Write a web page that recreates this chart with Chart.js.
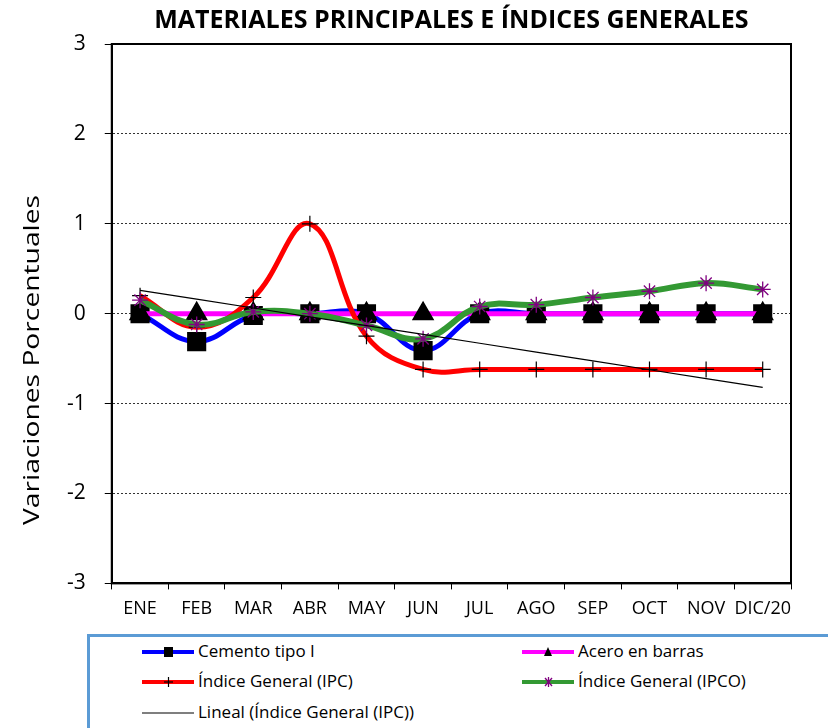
<!DOCTYPE html>
<html>
<head>
<meta charset="utf-8">
<script src="https://cdn.jsdelivr.net/npm/chart.js@4.4.1/dist/chart.umd.min.js"></script>
<style>
  html, body { margin: 0; padding: 0; background: #fff; overflow: hidden; }
  #wrap { position: relative; width: 828px; height: 728px; }
  #chartBox { position: absolute; left: 0; top: 0; width: 828px; height: 632px; }
  #legend {
    position: absolute; left: 87px; top: 634px; width: 780px; height: 110px;
    border: 3px solid #5b9bd5; background: #fff;
    font-family: "Open Sans", sans-serif; font-size: 17px; color: #000;
  }
  .item { position: absolute; height: 20px; line-height: 20px; white-space: nowrap; }
  .item svg { position: absolute; left: 0; top: 0; }
  .item span { position: absolute; left: 58px; top: -1px; }
</style>
</head>
<body>
<div id="wrap">
  <div id="chartBox"><canvas id="myChart"></canvas></div>
  <div id="legend">
    <div class="item" style="left:50px;top:5px;">
      <svg width="56" height="20"><line x1="2" y1="10" x2="54" y2="10" stroke="#0000ff" stroke-width="4"/><rect x="24" y="5" width="9" height="10" fill="#000"/></svg>
      <span>Cemento tipo I</span></div>
    <div class="item" style="left:430px;top:5px;">
      <svg width="56" height="20"><line x1="2" y1="10" x2="54" y2="10" stroke="#ff00ff" stroke-width="4"/><polygon points="28,5 24,14 32,14" fill="#000"/></svg>
      <span>Acero en barras</span></div>
    <div class="item" style="left:50px;top:35px;">
      <svg width="56" height="20"><line x1="2" y1="10" x2="54" y2="10" stroke="#ff0000" stroke-width="4"/><line x1="24" y1="10" x2="33" y2="10" stroke="#000" stroke-width="1.2"/><line x1="28.5" y1="5" x2="28.5" y2="15" stroke="#000" stroke-width="1.2"/></svg>
      <span>Índice General (IPC)</span></div>
    <div class="item" style="left:430px;top:35px;">
      <svg width="56" height="20"><line x1="2" y1="10" x2="54" y2="10" stroke="#339933" stroke-width="4"/><line x1="25" y1="6" x2="32" y2="14" stroke="#800080" stroke-width="1.3"/><line x1="32" y1="6" x2="25" y2="14" stroke="#800080" stroke-width="1.3"/><line x1="28.5" y1="5" x2="28.5" y2="15" stroke="#800080" stroke-width="1.3"/></svg>
      <span>Índice General (IPCO)</span></div>
    <div class="item" style="left:50px;top:66px;">
      <svg width="56" height="20"><line x1="2" y1="10" x2="54" y2="10" stroke="#000" stroke-width="1.2"/></svg>
      <span>Lineal (Índice General (IPC))</span></div>
  </div>
</div>
<script>
var meses = ["ENE", "FEB", "MAR", "ABR", "MAY", "JUN", "JUL", "AGO", "SEP", "OCT", "NOV", "DIC/20"];
var cemento = [0, -0.31, -0.02, 0, 0, -0.41, 0, 0, 0, 0, 0, 0];
var acero = [0, 0, 0, 0, 0, 0, 0, 0, 0, 0, 0, 0];
var ipc = [0.2, -0.15, 0.18, 1.0, -0.25, -0.62, -0.62, -0.62, -0.62, -0.62, -0.62, -0.62];
var ipco = [0.15, -0.12, 0.02, 0, -0.13, -0.28, 0.08, 0.1, 0.18, 0.25, 0.34, 0.27];

// linea de tendencia (minimos cuadrados sobre el IPC)
function tendencia(vals) {
  var n = vals.length, sx = 0, sy = 0, sxy = 0, sxx = 0;
  for (var i = 0; i < n; i++) {
    var x = i + 1;
    sx += x; sy += vals[i]; sxy += x * vals[i]; sxx += x * x;
  }
  var m = (n * sxy - sx * sy) / (n * sxx - sx * sx);
  var b = (sy - m * sx) / n;
  return vals.map(function (v, i) { return m * (i + 1) + b; });
}
var lineal = tendencia(ipc);

// marco negro alrededor del area de trazado
var marco = {
  id: "marco",
  afterDatasetsDraw: function (chart) {
    var a = chart.chartArea, ctx = chart.ctx;
    ctx.save();
    ctx.strokeStyle = "#000";
    ctx.lineWidth = 2;
    ctx.strokeRect(a.left, a.top, a.right - a.left, a.bottom - a.top);
    ctx.restore();
  }
};

// titulo del eje Y (va algo mas abajo que el centro, como en el original)
var tituloY = {
  id: "tituloY",
  afterDraw: function (chart) {
    var ctx = chart.ctx, txt = "Variaciones Porcentuales";
    ctx.save();
    ctx.font = "22px 'Open Sans'";
    ctx.fillStyle = "#000";
    ctx.textAlign = "center";
    ctx.textBaseline = "middle";
    var w = ctx.measureText(txt).width;
    ctx.translate(33, 360);
    ctx.rotate(-Math.PI / 2);
    ctx.scale(330 / w, 1);
    ctx.fillText(txt, 0, 0);
    ctx.restore();
  }
};

new Chart("myChart", {
  type: "line",
  data: {
    labels: meses,
    datasets: [
      {
        label: "Cemento tipo I", data: cemento, order: 5,
        borderColor: "#0000ff", borderWidth: 5, tension: 0.4,
        pointStyle: "rect", pointRadius: 10, pointHoverRadius: 10,
        pointBackgroundColor: "#000", pointBorderColor: "#000"
      },
      {
        label: "Acero en barras", data: acero, order: 4,
        borderColor: "#ff00ff", borderWidth: 5, tension: 0.4,
        pointStyle: "triangle", pointRadius: 8, pointHoverRadius: 8,
        pointBackgroundColor: "#000", pointBorderColor: "#000"
      },
      {
        label: "Índice General (IPC)", data: ipc, order: 3,
        borderColor: "#ff0000", borderWidth: 5, tension: 0.4,
        pointStyle: "cross", pointRadius: 8, pointHoverRadius: 8,
        pointBorderColor: "#000", pointBorderWidth: 1.2
      },
      {
        label: "Índice General (IPCO)", data: ipco, order: 2,
        borderColor: "#339933", borderWidth: 6, tension: 0.4,
        pointStyle: "star", pointRadius: 8, pointHoverRadius: 8,
        pointBorderColor: "#800080", pointBorderWidth: 1.3
      },
      {
        label: "Lineal (Índice General (IPC))", data: lineal, order: 1,
        borderColor: "#000", borderWidth: 1.2, tension: 0, pointRadius: 0
      }
    ]
  },
  options: {
    responsive: true,
    maintainAspectRatio: false,
    animation: false,
    layout: { padding: { left: 48, right: 37, top: 0, bottom: 3 } },
    plugins: {
      legend: { display: false },
      tooltip: { enabled: false },
      title: {
        display: true,
        fullSize: false,
        text: "MATERIALES PRINCIPALES E ÍNDICES GENERALES",
        color: "#000",
        font: { family: "Open Sans", size: 25, weight: "bold" },
        padding: { top: 6, bottom: 8 }
      }
    },
    scales: {
      x: {
        offset: true,
        grid: { drawOnChartArea: false, drawTicks: true, tickLength: 6, color: "#000", offset: true },
        border: { display: true, color: "#000", width: 2 },
        ticks: { color: "#000", font: { family: "Open Sans", size: 18 }, padding: 9, maxRotation: 0, autoSkip: false }
      },
      y: {
        min: -3, max: 3,
        ticks: { stepSize: 1, color: "#000", font: { family: "Open Sans", size: 21 }, padding: 19 },
        grid: { color: "#333", lineWidth: 1, tickLength: 7, tickColor: "#000", tickBorderDash: [] },
        border: { display: true, color: "#000", width: 2, dash: [2, 2] }
      }
    }
  },
  plugins: [marco, tituloY]
});
</script>
</body>
</html>
